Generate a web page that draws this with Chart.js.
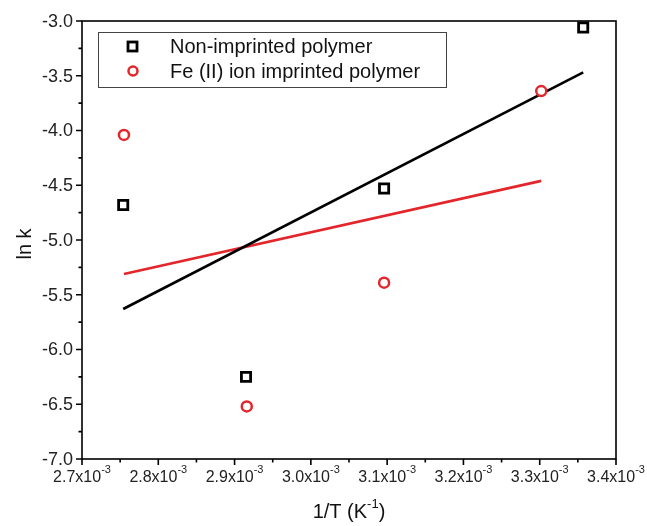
<!DOCTYPE html>
<html><head><meta charset="utf-8">
<script src="https://cdn.jsdelivr.net/npm/chart.js@4/dist/chart.umd.min.js"></script>
<style>html,body{margin:0;padding:0;background:#fff}#wrap{width:647px;height:526px;position:relative}</style>
</head><body><div id="wrap"><canvas id="c" width="647" height="526"></canvas></div>
<script>
// ---- data ----
const seriesLabels = ['Non-imprinted polymer', 'Fe (II) ion imprinted polymer'];
const invTNon = [2.754e-3, 2.915e-3, 3.096e-3, 3.357e-3];
const lnkNon = [-4.68, -6.25, -4.53, -3.06];
const invTFe = [2.755e-3, 2.916e-3, 3.096e-3, 3.302e-3];
const lnkFe = [-4.04, -6.52, -5.39, -3.64];
const fitNonX = [2.754e-3, 3.357e-3];
const fitNonY = [-5.63, -3.47];
const fitFeX = [2.755e-3, 3.302e-3];
const fitFeY = [-5.31, -4.46];
const xTickValues = [2.7e-3, 2.8e-3, 2.9e-3, 3.0e-3, 3.1e-3, 3.2e-3, 3.3e-3, 3.4e-3];
const xTickMantissas = ['2.7', '2.8', '2.9', '3.0', '3.1', '3.2', '3.3', '3.4'];
const xTickExponent = '-3';
const yTickValues = [-3.0, -3.5, -4.0, -4.5, -5.0, -5.5, -6.0, -6.5, -7.0];
const yTickLabels = ['-3.0', '-3.5', '-4.0', '-4.5', '-5.0', '-5.5', '-6.0', '-6.5', '-7.0'];
const xTitleMain = '1/T (K', xTitleSup = '-1', xTitleEnd = ')';
const yTitle = 'ln k';

const toPts = (xs, ys) => xs.map((x, i) => ({x: x, y: ys[i]}));
const RED = '#e3262b';
const FONT = '"Liberation Sans", Arial, sans-serif';

const framePlugin = {
  id: 'frame',
  afterDraw(chart) {
    const {ctx, chartArea: a, scales: {x, y}} = chart;
    ctx.save();
    // frame
    ctx.strokeStyle = '#000';
    ctx.lineWidth = 1.6;
    ctx.strokeRect(a.left, a.top, a.right - a.left, a.bottom - a.top);
    // ticks (major + minor)
    ctx.beginPath();
    for (let i = 0; i < xTickValues.length; i++) {
      const px = x.getPixelForValue(xTickValues[i]);
      ctx.moveTo(px, a.bottom); ctx.lineTo(px, a.bottom + 6);
      if (i < xTickValues.length - 1) {
        const pm = x.getPixelForValue((xTickValues[i] + xTickValues[i + 1]) / 2);
        ctx.moveTo(pm, a.bottom); ctx.lineTo(pm, a.bottom + 3.5);
      }
    }
    for (let i = 0; i < yTickValues.length; i++) {
      const py = y.getPixelForValue(yTickValues[i]);
      ctx.moveTo(a.left, py); ctx.lineTo(a.left - 6, py);
      if (i < yTickValues.length - 1) {
        const pm = y.getPixelForValue((yTickValues[i] + yTickValues[i + 1]) / 2);
        ctx.moveTo(a.left, pm); ctx.lineTo(a.left - 3.5, pm);
      }
    }
    ctx.stroke();
    // y tick labels
    ctx.fillStyle = '#222';
    ctx.font = '18px ' + FONT;
    ctx.textAlign = 'right';
    ctx.textBaseline = 'middle';
    yTickValues.forEach((v, i) => ctx.fillText(yTickLabels[i], a.left - 9, y.getPixelForValue(v) + 1));
    // x tick labels with superscript
    xTickValues.forEach((v, i) => {
      const px = x.getPixelForValue(v);
      ctx.font = '16px ' + FONT;
      const w1 = ctx.measureText(xTickMantissas[i] + 'x10').width;
      ctx.font = '11px ' + FONT;
      const w2 = ctx.measureText(xTickExponent).width;
      const start = px - (w1 + w2) / 2;
      ctx.textAlign = 'left';
      ctx.textBaseline = 'alphabetic';
      ctx.font = '16px ' + FONT;
      ctx.fillText(xTickMantissas[i] + 'x10', start, a.bottom + 23);
      ctx.font = '11px ' + FONT;
      ctx.fillText(xTickExponent, start + w1, a.bottom + 14);
    });
    // x title
    ctx.fillStyle = '#111';
    ctx.font = '20px ' + FONT;
    const t1 = ctx.measureText(xTitleMain).width;
    const t3 = ctx.measureText(xTitleEnd).width;
    ctx.font = '13px ' + FONT;
    const t2 = ctx.measureText(xTitleSup).width;
    const cx = (a.left + a.right) / 2;
    let sx = cx - (t1 + t2 + t3) / 2;
    ctx.textAlign = 'left';
    ctx.font = '20px ' + FONT;
    ctx.fillText(xTitleMain, sx, 518);
    ctx.font = '13px ' + FONT;
    ctx.fillText(xTitleSup, sx + t1, 508);
    ctx.font = '20px ' + FONT;
    ctx.fillText(xTitleEnd, sx + t1 + t2, 518);
    // y title
    ctx.save();
    ctx.translate(31, (a.top + a.bottom) / 2 + 4);
    ctx.rotate(-Math.PI / 2);
    ctx.textAlign = 'center';
    ctx.textBaseline = 'alphabetic';
    ctx.font = '20px ' + FONT;
    ctx.fillText(yTitle, 0, 0);
    ctx.restore();
    // legend
    const lx = 98, ly = 32, lw = 348, lh = 55;
    ctx.fillStyle = '#fff';
    ctx.fillRect(lx, ly, lw, lh);
    ctx.strokeStyle = '#444';
    ctx.lineWidth = 1;
    ctx.strokeRect(lx + 0.5, ly + 0.5, lw, lh);
    const ds = chart.data.datasets.filter(d => d.showLine === false);
    ds.forEach((d, i) => {
      const my = ly + 14 + i * 25;
      ctx.strokeStyle = d.borderColor;
      ctx.lineWidth = d.borderWidth;
      ctx.fillStyle = '#fff';
      if (d.pointStyle === 'rect') {
        ctx.strokeRect(128, my - 4, 9, 9);
      } else {
        ctx.beginPath(); ctx.arc(133, my, 4.5, 0, Math.PI * 2); ctx.stroke();
      }
      ctx.fillStyle = '#111';
      ctx.font = '20px ' + FONT;
      ctx.textAlign = 'left';
      ctx.textBaseline = 'middle';
      ctx.fillText(d.label, 170, my + 1);
    });
    ctx.restore();
  }
};

new Chart(document.getElementById('c'), {
  type: 'scatter',
  data: {
    datasets: [
      {label: seriesLabels[0], data: toPts(invTNon, lnkNon), showLine: false, pointStyle: 'rect',
       pointRadius: 6.5, borderColor: '#000', backgroundColor: '#fff', borderWidth: 2.8, order: 1},
      {label: seriesLabels[1], data: toPts(invTFe, lnkFe), showLine: false, pointStyle: 'circle',
       pointRadius: 5, borderColor: RED, backgroundColor: '#fff', borderWidth: 2.5, order: 1},
      {label: 'fit1', data: toPts(fitNonX, fitNonY), showLine: true, pointRadius: 0,
       borderColor: '#000', borderWidth: 2.6, order: 2},
      {label: 'fit2', data: toPts(fitFeX, fitFeY), showLine: true, pointRadius: 0,
       borderColor: RED, borderWidth: 2.6, order: 2}
    ]
  },
  options: {
    responsive: false,
    animation: false,
    clip: false,
    layout: {padding: {left: 82, top: 21, right: 31, bottom: 67}},
    plugins: {legend: {display: false}, tooltip: {enabled: false}},
    scales: {
      x: {type: 'linear', min: 2.7e-3, max: 3.4e-3, display: false},
      y: {type: 'linear', min: -7, max: -3, display: false}
    }
  },
  plugins: [framePlugin]
});
</script>
</body></html>
